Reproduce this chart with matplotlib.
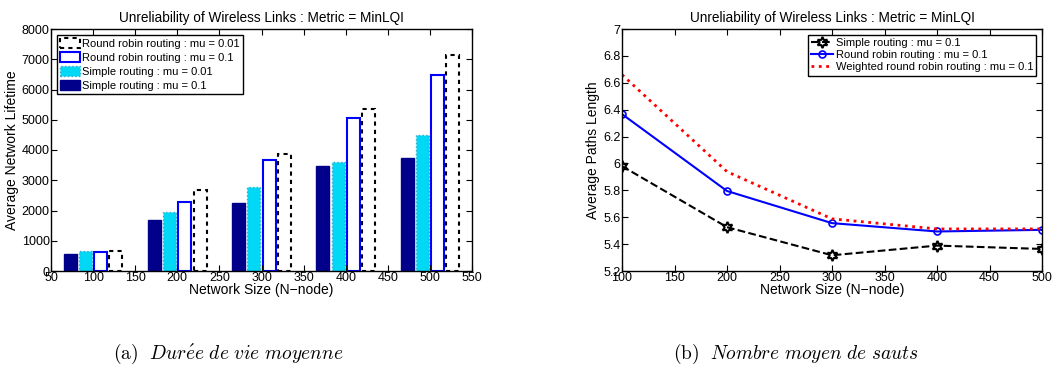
import numpy as np
import matplotlib
matplotlib.use("Agg")
import matplotlib.pyplot as plt

# data
sizes = [100, 200, 300, 400, 500]

simple_01 = [552, 1680, 2254, 3480, 3735]
simple_001 = [650, 1945, 2773, 3602, 4497]
rr_01 = [630, 2265, 3680, 5072, 6464]
rr_001 = [663, 2674, 3878, 5359, 7138]

path_simple = [5.98, 5.526, 5.317, 5.389, 5.364]
path_rr = [6.367, 5.795, 5.556, 5.494, 5.506]
path_wrr = [6.66, 5.939, 5.588, 5.513, 5.513]

title = "Unreliability of Wireless Links : Metric = MinLQI"

plt.rcParams['font.family'] = ['Liberation Sans', 'DejaVu Sans']
plt.rcParams['font.size'] = 8
plt.rcParams['mathtext.fontset'] = 'cm'

fig = plt.figure(figsize=(10.52, 3.83), dpi=100)
W, H = 1052.0, 383.0
ax1 = fig.add_axes([51 / W, 1 - 271 / H, (472 - 51) / W, (271 - 29) / H])
ax2 = fig.add_axes([622 / W, 1 - 271 / H, (1042 - 622) / W, (271 - 29) / H])

#---- left: bars
x = np.array(sizes, dtype=float)
bw = 15.5
b1 = ax1.bar(x - 27, simple_01, bw, color='#00008b', edgecolor='#00008b')
b2 = ax1.bar(x - 9, simple_001, bw, color='#00d8f5', edgecolor='#33aacc',
             linestyle=':', linewidth=1)
b3 = ax1.bar(x + 9, rr_01, bw, color='white', edgecolor='#0000ff', linewidth=1.5)
b4 = ax1.bar(x + 27, rr_001, bw, color='white', edgecolor='black',
             linestyle=(0, (2, 2)), linewidth=1.5)
ax1.set_xlim(50, 550)
ax1.set_ylim(0, 8000)
ax1.set_xticks(np.arange(50, 551, 50))
ax1.set_yticks(np.arange(0, 8001, 1000))
ax1.set_xlabel("Network Size (N\u2212node)", fontsize=10, labelpad=-1)
ax1.set_ylabel("Average Network Lifetime", fontsize=10, labelpad=2)
ax1.set_title(title, fontsize=9.8, pad=5)
ax1.legend([b4, b3, b2, b1],
           ["Round robin routing : mu = 0.01", "Round robin routing : mu = 0.1",
            "Simple routing : mu = 0.01", "Simple routing : mu = 0.1"],
           loc='upper left', fontsize=8, fancybox=False, edgecolor='black',
           framealpha=1, borderpad=0.3, labelspacing=0.3, handlelength=1.8,
           handleheight=1.0, handletextpad=0.2, borderaxespad=0.5)

#---- right: lines
ax2.plot(sizes, path_simple, color='black', linestyle='--', linewidth=1.5,
         marker=(6, 1, 0), markersize=8, mfc='none', mew=1.5,
         label="Simple routing : mu = 0.1")
ax2.plot(sizes, path_rr, color='#0000ff', linestyle='-', linewidth=1.5,
         marker='o', markersize=5, mfc='none', mew=1.2,
         label="Round robin routing : mu = 0.1")
ax2.plot(sizes, path_wrr, color='red', linestyle=':', linewidth=2,
         label="Weighted round robin routing : mu = 0.1")
ax2.set_xlim(100, 500)
ax2.set_ylim(5.2, 7)
ax2.set_xticks(np.arange(100, 501, 50))
ax2.set_yticks([5.2, 5.4, 5.6, 5.8, 6, 6.2, 6.4, 6.6, 6.8, 7])
ax2.set_yticklabels(["5.2", "5.4", "5.6", "5.8", "6", "6.2", "6.4", "6.6", "6.8", "7"])
ax2.set_xlabel("Network Size (N\u2212node)", fontsize=10, labelpad=-1)
ax2.set_ylabel("Average Paths Length", fontsize=10, labelpad=2)
ax2.set_title(title, fontsize=9.8, pad=5)
ax2.legend(loc='upper right', fontsize=8, fancybox=False, edgecolor='black',
           framealpha=1, borderpad=0.3, labelspacing=0.2, handlelength=2,
           handletextpad=0.2, borderaxespad=0.5)

for ax in (ax1, ax2):
    ax.tick_params(direction='in', top=True, right=True, length=4, pad=1,
                   labelsize=9)
    for s in ax.spines.values():
        s.set_linewidth(1)

# captions
fig.text(113 / W, 1 - 354 / H,
         r"$\mathrm{(a)}\ \ \mathit{Dur\acute{e}e\ de\ vie\ moyenne}$",
         fontsize=14, ha='left', va='center')
fig.text(673 / W, 1 - 354 / H,
         r"$\mathrm{(b)}\ \ \mathit{Nombre\ moyen\ de\ sauts}$",
         fontsize=14, ha='left', va='center')

fig.savefig("out.png", dpi=100)
